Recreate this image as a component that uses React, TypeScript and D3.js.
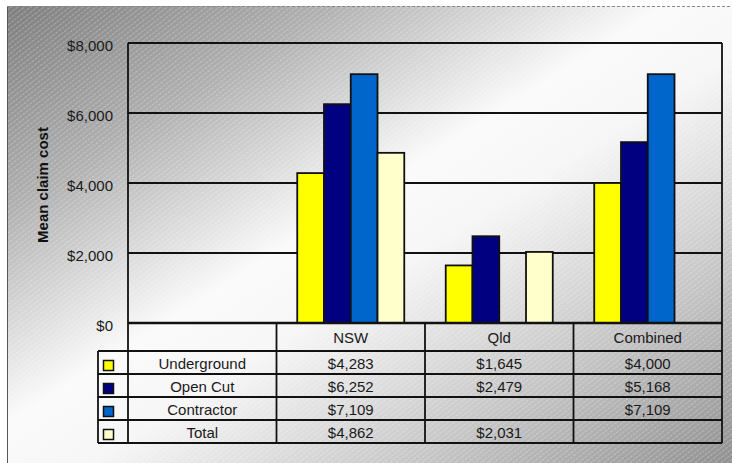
import React from "react";
import * as d3 from "d3";

const categories = ["NSW", "Qld", "Combined"];
const seriesNames = ["Underground", "Open Cut", "Contractor", "Total"];
const underground: (number | null)[] = [4283, 1645, 4000];
const openCut: (number | null)[] = [6252, 2479, 5168];
const contractor: (number | null)[] = [7109, null, 7109];
const total: (number | null)[] = [4862, 2031, null];
const yTicks = [0, 2000, 4000, 6000, 8000];
const seriesColors = ["#FFFF00", "#000080", "#0066CC", "#FFFFCC"];
const yTitle = "Mean claim cost";

const seriesValues = [underground, openCut, contractor, total];

const W = 732;
const H = 463;
const plotL = 128;
const plotR = 722;
const plotT = 43;
const plotB = 323;
const headerB = 351;
const tableB = 443;
const keyL = 98;
const FONT = "'Liberation Sans', Arial, sans-serif";
const LW = 1.8;

export default function App() {
  const y = d3.scaleLinear().domain([0, 8000]).range([plotB, plotT]);
  const x0 = d3
    .scaleBand<string>()
    .domain(["", ...categories])
    .range([plotL, plotR])
    .paddingInner(0)
    .paddingOuter(0);
  const x1 = d3
    .scaleBand<string>()
    .domain(seriesNames)
    .range([0, x0.bandwidth()])
    .paddingInner(0)
    .paddingOuter(0.775);
  const rowY = d3
    .scaleBand<string>()
    .domain(seriesNames)
    .range([headerB, tableB]);
  const fmt = d3.format("$,.0f");

  const colEdges = [plotL, ...categories.map((c) => x0(c) as number), plotR];

  return (
    <svg
      width={W}
      height={H}
      style={{ position: "absolute", left: 0, top: 0 }}
      fontFamily={FONT}
    >
      <defs>
        <linearGradient id="bg" x1="0" y1="0" x2="1" y2="1">
          <stop offset="0" stopColor="#7e7e7e" />
          <stop offset="0.22" stopColor="#b0b0b0" />
          <stop offset="0.45" stopColor="#fafafa" />
          <stop offset="0.55" stopColor="#f6f6f6" />
          <stop offset="0.78" stopColor="#c4c4c4" />
          <stop offset="1" stopColor="#8e8e8e" />
        </linearGradient>
        <pattern
          id="hatch"
          width="4"
          height="4"
          patternUnits="userSpaceOnUse"
          patternTransform="rotate(-38)"
        >
          <line x1="0" y1="0.5" x2="4" y2="0.5" stroke="#ffffff" strokeWidth="0.8" strokeOpacity="0.35" strokeDasharray="2 1" />
        </pattern>
      </defs>
      <rect x={0} y={0} width={W} height={H} fill="#ffffff" />
      <rect x={7} y={6} width={W} height={H} fill="url(#bg)" />
      <rect x={7} y={6} width={W} height={H} fill="url(#hatch)" />
      <line x1={7.5} y1={6} x2={7.5} y2={H} stroke="#555" strokeWidth={1} />
      <line x1={7} y1={6.5} x2={W} y2={6.5} stroke="#888" strokeWidth={1} strokeDasharray="3 2" />

      {/* gridlines */}
      {yTicks
        .filter((t) => t > 0)
        .map((t) => (
          <line key={t} x1={plotL} x2={plotR} y1={y(t)} y2={y(t)} stroke="#111" strokeWidth={LW} />
        ))}

      {/* bars */}
      {categories.map((c, ci) =>
        seriesNames.map((s, si) => {
          const v = seriesValues[si][ci];
          if (v == null) return null;
          const bx = (x0(c) as number) + (x1(s) as number);
          return (
            <rect
              key={c + s}
              x={bx}
              y={y(v)}
              width={x1.bandwidth()}
              height={y(0) - y(v)}
              fill={seriesColors[si]}
              stroke="#111"
              strokeWidth={LW}
            />
          );
        })
      )}

      {/* plot border & axes */}
      <line x1={plotL} x2={plotL} y1={plotT} y2={tableB} stroke="#111" strokeWidth={LW} />
      <line x1={plotR} x2={plotR} y1={plotT} y2={tableB} stroke="#111" strokeWidth={LW} />
      <line x1={plotL} x2={plotR} y1={plotT} y2={plotT} stroke="#111" strokeWidth={LW} />
      <line x1={plotL} x2={plotR} y1={plotB} y2={plotB} stroke="#111" strokeWidth={2.4} />

      {/* y tick labels */}
      {yTicks.map((t) => (
        <text key={t} x={113} y={y(t) + 8} textAnchor="end" fontSize={15} fill="#1a1a1a">
          {fmt(t)}
        </text>
      ))}

      {/* y title */}
      <text
        transform={`translate(48,185) rotate(-90)`}
        textAnchor="middle"
        fontSize={15}
        fontWeight="bold"
        fill="#111"
      >
        {yTitle}
      </text>

      {/* data table lines */}
      {colEdges.slice(1, -1).map((cx, i) => (
        <line key={"c" + i} x1={cx} x2={cx} y1={plotB} y2={tableB} stroke="#111" strokeWidth={LW} />
      ))}
      <line x1={keyL} x2={keyL} y1={headerB} y2={tableB} stroke="#111" strokeWidth={LW} />
      {seriesNames.map((s) => (
        <line key={"r" + s} x1={keyL} x2={plotR} y1={rowY(s)} y2={rowY(s)} stroke="#111" strokeWidth={LW} />
      ))}
      <line x1={keyL} x2={plotR} y1={tableB} y2={tableB} stroke="#111" strokeWidth={LW} />

      {/* header */}
      {categories.map((c) => (
        <text
          key={"h" + c}
          x={(x0(c) as number) + x0.bandwidth() / 2}
          y={(plotB + headerB) / 2 + 5.5}
          textAnchor="middle"
          fontSize={15}
          fill="#1a1a1a"
        >
          {c}
        </text>
      ))}

      {/* rows */}
      {seriesNames.map((s, si) => {
        const ry = rowY(s) as number;
        const cy = ry + rowY.bandwidth() / 2;
        return (
          <g key={"row" + s}>
            <rect
              x={103.5}
              y={cy - 2}
              width={10}
              height={10}
              fill={seriesColors[si]}
              stroke="#111"
              strokeWidth={1.5}
            />
            <text x={(plotL + (x0("NSW") as number)) / 2} y={cy + 6} textAnchor="middle" fontSize={15} fill="#1a1a1a">
              {s}
            </text>
            {categories.map((c, ci) => {
              const v = seriesValues[si][ci];
              if (v == null) return null;
              return (
                <text
                  key={c}
                  x={(x0(c) as number) + x0.bandwidth() / 2}
                  y={cy + 6}
                  textAnchor="middle"
                  fontSize={15}
                  fill="#1a1a1a"
                >
                  {fmt(v)}
                </text>
              );
            })}
          </g>
        );
      })}
    </svg>
  );
}
